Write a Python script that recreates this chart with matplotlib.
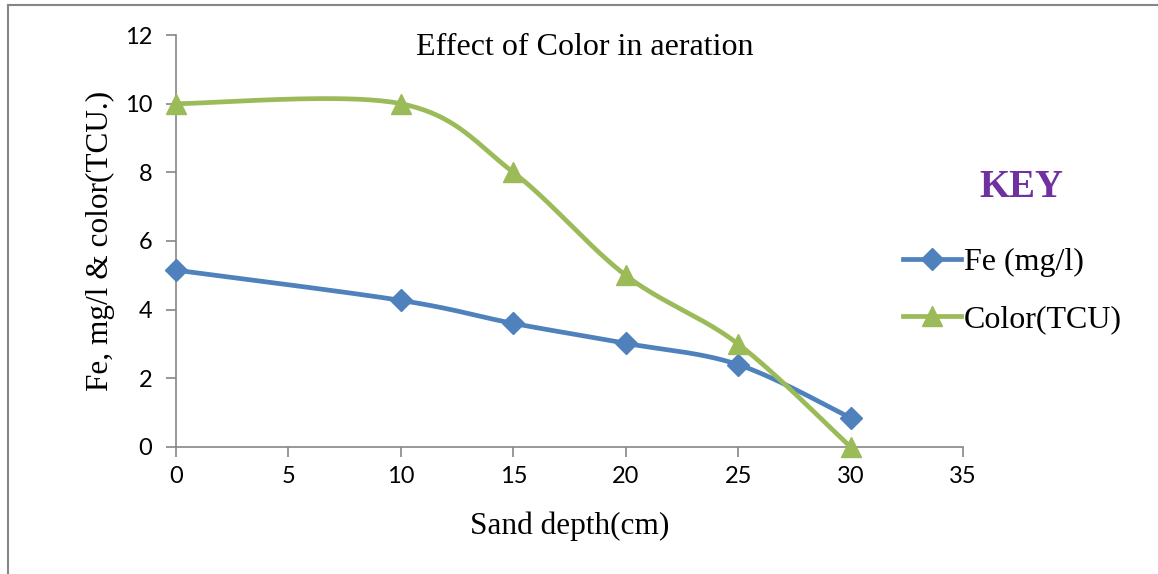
import numpy as np
import matplotlib.pyplot as plt
from matplotlib.lines import Line2D

# data
depth = [0, 10, 15, 20, 25, 30]
fe = [5.15, 4.27, 3.6, 3.02, 2.4, 0.85]
colour = [10, 10, 8, 5, 3, 0]

xticks = [0, 5, 10, 15, 20, 25, 30, 35]
yticks = [0, 2, 4, 6, 8, 10, 12]

blue = '#4F81BD'
green = '#9BBB59'
grey = '#868686'


def smooth(xs, ys, n=40):
    # excel style smoothed line: cubic bezier through the points
    p = np.column_stack([xs, ys]).astype(float)
    p = np.vstack([p[0], p, p[-1]])
    out = []
    t = np.linspace(0, 1, n)[:, None]
    for i in range(1, len(p) - 2):
        a, b = p[i], p[i + 1]
        c1 = a + (p[i + 1] - p[i - 1]) / 6
        c2 = b - (p[i + 2] - p[i]) / 6
        seg = (1 - t)**3 * a + 3 * (1 - t)**2 * t * c1 + 3 * (1 - t) * t**2 * c2 + t**3 * b
        out.append(seg)
    out = np.vstack(out)
    return out[:, 0], out[:, 1]


fig = plt.figure(figsize=(11.58, 5.74), dpi=100)
ax = fig.add_axes([0.152, 0.2213, 0.6796, 0.7177])

sx, sy = smooth(depth, fe)
ax.plot(sx, sy, color=blue, lw=3.4, solid_capstyle='round', zorder=3)
ax.plot(depth, fe, ls='none', marker='D', ms=11, color=blue, zorder=4, clip_on=False)
sx, sy = smooth(depth, colour)
ax.plot(sx, sy, color=green, lw=3.4, solid_capstyle='round', zorder=3, clip_on=False)
ax.plot(depth, colour, ls='none', marker='^', ms=15, color=green, zorder=4, clip_on=False)

ax.set_xlim(0, 35)
ax.set_ylim(0, 12)
ax.set_xticks(xticks)
ax.set_yticks(yticks)
for s in ['top', 'right']:
    ax.spines[s].set_visible(False)
for s in ['left', 'bottom']:
    ax.spines[s].set_color(grey)
    ax.spines[s].set_linewidth(1.2)
ax.tick_params(direction='out', length=7, width=1.2, color=grey, labelsize=17)
ax.tick_params(axis='y', pad=10)
ax.tick_params(axis='x', pad=7)
for lab in ax.get_xticklabels() + ax.get_yticklabels():
    lab.set_family('Lato')

ax.set_xlabel('Sand depth(cm)', family='Liberation Serif', fontsize=22.5, labelpad=17)
ax.set_ylabel('Fe, mg/l & color(TCU.)', family='Liberation Serif', fontsize=22.5, labelpad=7)
ax.text(0.52, 1.004, 'Effect of Color in aeration', transform=ax.transAxes,
        ha='center', va='top', family='Liberation Serif', fontsize=23)

# key
fig.text(0.8817, 0.641, 'KEY', ha='center', va='bottom', color='#7030A0',
         family='Liberation Serif', fontweight='bold', fontsize=28)
handles = [Line2D([], [], color=blue, lw=3.4, marker='D', ms=11),
           Line2D([], [], color=green, lw=3.4, marker='^', ms=15)]
fig.legend(handles, ['Fe (mg/l)', 'Color(TCU)'], loc='upper left',
           bbox_to_anchor=(0.7798, 0.569), frameon=False, handlelength=1.8,
           handletextpad=0.1, labelspacing=0.87, borderpad=0, borderaxespad=0,
           prop={'family': 'Liberation Serif', 'size': 23})

# border of the chart area
fig.add_artist(Line2D([0.0069, 0.0069], [0, 0.991], color=grey, lw=1.5))
fig.add_artist(Line2D([0.0069, 1.0], [0.991, 0.991], color=grey, lw=1.5))

fig.savefig('out.png', dpi=100)
